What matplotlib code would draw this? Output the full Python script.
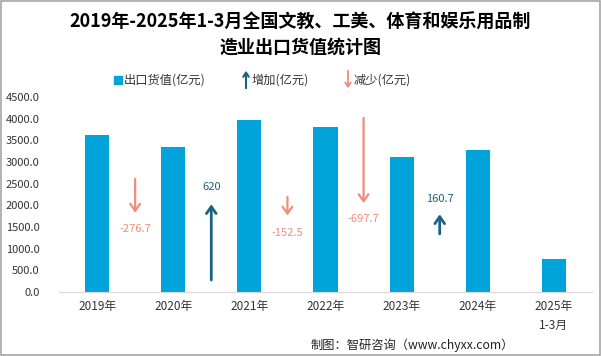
import numpy as np
import matplotlib
matplotlib.use("Agg")
import matplotlib.pyplot as plt
from matplotlib.patches import Rectangle, FancyArrowPatch

plt.rcParams['font.family'] = ['Noto Sans CJK SC', 'DejaVu Sans']

# data
years = ["2019年", "2020年", "2021年", "2022年", "2023年", "2024年", "2025年\n1-3月"]
export_value = [3626.0, 3349.3, 3969.3, 3816.8, 3119.1, 3279.8, 762.0]
changes = [-276.7, 620, -152.5, -697.7, 160.7]
change_labels = ["-276.7", "620", "-152.5", "-697.7", "160.7"]
# where each arrow starts (y, in value units) and where its label sits
arrow_start = [2610, 277, 2194, 4018, 1340]
label_y = [1455, 2425, 1363, 1686, 2148]
arrow_scale = 2.82

bar_color = "#00A3DA"
up_color = "#1A6482"
down_color = "#F08C78"

fig = plt.figure(figsize=(6.01, 3.56), dpi=100)
ax = fig.add_axes([59/601, 1-292/356, 533/601, 195/356])

x = np.arange(len(years))
ax.bar(x, export_value, width=0.316, color=bar_color, zorder=2)

for i, ch in enumerate(changes):
    xc = i + 0.5
    y0 = arrow_start[i]
    y1 = y0 + ch * arrow_scale
    col = up_color if ch > 0 else down_color
    lw = 2.0 if ch > 0 else 1.6
    ax.annotate("", xy=(xc, y1), xytext=(xc, y0),
                arrowprops=dict(arrowstyle="->,head_length=0.5,head_width=0.35",
                                color=col, lw=lw, shrinkA=0, shrinkB=0))
    ax.text(xc, label_y[i], change_labels[i], color=col, fontsize=8,
            ha="center", va="center")

ax.set_xlim(-0.5, len(years) - 0.5)
ax.set_ylim(0, 4500)
ax.set_yticks(np.arange(0, 4501, 500))
ax.set_yticklabels(["%.1f" % v for v in np.arange(0, 4501, 500)], fontsize=8)
ax.set_xticks(x)
ax.set_xticklabels(years, fontsize=8.5, color="#333333", linespacing=1.6)
ax.tick_params(axis="both", length=0, colors="#333333")
ax.tick_params(axis="x", pad=6)
ax.tick_params(axis="y", pad=14)
for s in ["top", "right", "left"]:
    ax.spines[s].set_visible(False)
ax.spines["bottom"].set_color("#D9D9D9")

# title
fig.text(0.5, 1-22/356, "2019年-2025年1-3月全国文教、工美、体育和娱乐用品制",
         ha="center", va="center", fontsize=13, fontweight="bold")
fig.text(0.5, 1-47/356, "造业出口货值统计图",
         ha="center", va="center", fontsize=13, fontweight="bold")

# legend
ly = 1 - 80/356
fig.patches.append(Rectangle((114/601, ly - 4/356), 8/601, 8/356,
                             transform=fig.transFigure, color=bar_color))
fig.text(124/601, ly, "出口货值(亿元)", fontsize=8.8, va="center", color="#333333")
fig.patches.append(FancyArrowPatch((246/601, 1-91/356), (246/601, 1-68/356),
                                   transform=fig.transFigure, color=up_color, lw=1.5,
                                   arrowstyle="->,head_length=3,head_width=2"))
fig.text(252/601, ly, "增加(亿元)", fontsize=8.8, va="center", color="#333333")
fig.patches.append(FancyArrowPatch((348/601, 1-68/356), (348/601, 1-91/356),
                                   transform=fig.transFigure, color=down_color, lw=1.3,
                                   arrowstyle="->,head_length=3,head_width=2"))
fig.text(354/601, ly, "减少(亿元)", fontsize=8.8, va="center", color="#333333")

# source
fig.text(514/601, 1-345/356, "制图：智研咨询（www.chyxx.com）", fontsize=8.8,
         ha="right", va="center", color="#222222")

# border
fig.patches.append(Rectangle((0.001, 0.002), 0.997, 0.995, transform=fig.transFigure,
                             fill=False, edgecolor="#A6A6A6", lw=1.2))

fig.savefig("out.png", dpi=100)
